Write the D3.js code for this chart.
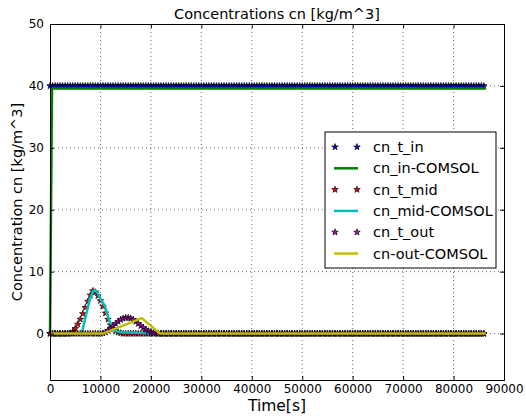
<!DOCTYPE html>
<html lang="en">
  <head>
    <meta charset="utf-8" />
    <title>Concentrations cn</title>
    <script src="https://cdnjs.cloudflare.com/ajax/libs/d3/7.8.5/d3.min.js"></script>
    <style>
      body { margin: 0; background: #fff; }
      text { font-family: "DejaVu Sans", sans-serif; fill: #000; }
      .axis path { stroke: #000; stroke-width: 1; }
      .axis line { stroke: #000; stroke-width: 1; }
      .axis text { font-size: 12px; font-family: "DejaVu Sans", sans-serif; }
      .grid line { stroke: #000; stroke-width: 0.6; stroke-dasharray: 1, 3; }
    </style>
  </head>
  <body>
    <div id="chart"></div>
    <script>
      // Sampling step of the time series (s) and its end.
      const timeStep = 500;
      const timeEnd = 86400;

      // Star series, one value per time step; after the listed values the series stays at its last level.
      const cnTIn = [40];
      const cnTMid = [0, 0, 0, 0, 0, 0, 0, 0, 0.05, 0.3, 0.8, 1.5, 2.3, 3.2, 4.2, 5.2, 6.2, 6.9,
                      6.7, 6.1, 5.3, 4.4, 3.3, 2.3, 1.4, 0.8, 0.4, 0.2, 0.08, 0];
      const cnTOut = [0, 0, 0, 0, 0, 0, 0, 0, 0, 0, 0, 0, 0, 0, 0, 0, 0, 0, 0, 0, 0,
                      0.05, 0.2, 0.5, 0.8, 1.2, 1.6, 1.95, 2.25, 2.45, 2.55, 2.55, 2.45, 2.25,
                      1.95, 1.6, 1.25, 0.95, 0.65, 0.4, 0.25, 0.12, 0.05, 0];

      // COMSOL curves as [time, value].
      const cnInComsol = [[0, 0], [400, 39.6], [86400, 39.6]];
      const cnMidComsol = [[0, 0], [6300, 0], [7000, 2.5], [7800, 5.2], [8500, 6.8], [8900, 7.0],
                           [9400, 6.6], [10000, 5.6], [10900, 4.4], [11400, 3.0], [11900, 1.8],
                           [12400, 0.9], [12900, 0.4], [14000, 0.2], [17000, 0.15], [19500, 0.05],
                           [21000, 0], [86400, 0]];
      const cnOutComsol = [[0, 0], [10500, 0], [18200, 2.5], [21800, 0], [86400, 0]];

      const xTicks = [0, 10000, 20000, 30000, 40000, 50000, 60000, 70000, 80000, 90000];
      const yTicks = [0, 10, 20, 30, 40, 50];
      const legendLabels = ['cn_t_in', 'cn_in-COMSOL', 'cn_t_mid', 'cn_mid-COMSOL', 'cn_t_out', 'cn-out-COMSOL'];

      const width = 526;
      const height = 416;
      const margin = { top: 24, right: 22, bottom: 36, left: 50 };
      const innerWidth = width - margin.left - margin.right;
      const innerHeight = height - margin.top - margin.bottom;

      // Expand a step series into [time, value] points.
      function toPoints (vals) {
        const pts = [];
        let i = 0;
        for (let t = 0; t <= timeEnd; t += timeStep, i++) {
          pts.push([t, i < vals.length ? vals[i] : vals[vals.length - 1]]);
        }
        return pts;
      }

      const svg = d3.select('#chart').append('svg')
        .attr('width', width)
        .attr('height', height)
        .style('display', 'block');

      const g = svg.append('g')
        .attr('transform', `translate(${margin.left},${margin.top})`);

      const x = d3.scaleLinear().domain([0, 90000]).range([0, innerWidth]);
      const y = d3.scaleLinear().domain([-7.5, 50]).range([innerHeight, 0]);

      // Grid.
      g.append('g').attr('class', 'grid')
        .selectAll('line').data(xTicks.slice(1, -1)).join('line')
          .attr('x1', d => x(d)).attr('x2', d => x(d))
          .attr('y1', 0).attr('y2', innerHeight);
      g.append('g').attr('class', 'grid')
        .selectAll('line').data(yTicks.slice(0, -1)).join('line')
          .attr('x1', 0).attr('x2', innerWidth)
          .attr('y1', d => y(d)).attr('y2', d => y(d));

      const line = d3.line().x(d => x(d[0])).y(d => y(d[1]));
      const star = d3.symbol().type(d3.symbolStar).size(13);

      function drawStars (pts, color) {
        g.append('g').selectAll('path').data(pts).join('path')
          .attr('d', star)
          .attr('transform', d => `translate(${x(d[0])},${y(d[1])})`)
          .attr('fill', color)
          .attr('stroke', '#000')
          .attr('stroke-width', 0.7);
      }

      function drawLine (pts, color) {
        g.append('path').datum(pts)
          .attr('fill', 'none')
          .attr('stroke', color)
          .attr('stroke-width', 2.5)
          .attr('d', line);
      }

      drawStars(toPoints(cnTIn), '#0000ff');
      drawLine(cnInComsol, '#008000');
      drawStars(toPoints(cnTMid), '#ff0000');
      drawLine(cnMidComsol, '#00bfbf');
      drawStars(toPoints(cnTOut), '#bf00bf');
      drawLine(cnOutComsol, '#bfbf00');

      // Axes with inward ticks on all four sides.
      g.append('g').attr('class', 'axis')
        .attr('transform', `translate(0,${innerHeight})`)
        .call(d3.axisBottom(x).tickValues(xTicks).tickSize(-4).tickPadding(4).tickFormat(d3.format('d')));
      g.append('g').attr('class', 'axis')
        .call(d3.axisTop(x).tickValues(xTicks).tickSize(-4).tickFormat(''));
      g.append('g').attr('class', 'axis')
        .call(d3.axisLeft(y).tickValues(yTicks).tickSize(-4).tickPadding(6));
      g.append('g').attr('class', 'axis')
        .attr('transform', `translate(${innerWidth},0)`)
        .call(d3.axisRight(y).tickValues(yTicks).tickSize(-4).tickFormat(''));
      g.selectAll('.axis .domain').attr('stroke-width', 1.2);

      // Titles.
      svg.append('text')
        .attr('x', margin.left + innerWidth / 2).attr('y', 19)
        .attr('text-anchor', 'middle').style('font-size', '14.5px')
        .text('Concentrations cn [kg/m^3]');
      svg.append('text')
        .attr('x', margin.left + innerWidth / 2).attr('y', 411)
        .attr('text-anchor', 'middle').style('font-size', '15.5px')
        .text('Time[s]');
      svg.append('text')
        .attr('transform', `translate(22,${margin.top + innerHeight / 2}) rotate(-90)`)
        .attr('text-anchor', 'middle').style('font-size', '14.5px')
        .text('Concentration cn [kg/m^3]');

      // Legend.
      const legend = svg.append('g').attr('transform', 'translate(325,132)');
      legend.append('rect')
        .attr('width', 171).attr('height', 136)
        .attr('fill', '#fff').attr('stroke', '#000').attr('stroke-width', 1);
      const legendStyle = [
        { kind: 'star', color: '#0000ff' },
        { kind: 'line', color: '#008000' },
        { kind: 'star', color: '#ff0000' },
        { kind: 'line', color: '#00bfbf' },
        { kind: 'star', color: '#bf00bf' },
        { kind: 'line', color: '#bfbf00' }
      ];
      legendLabels.forEach((label, i) => {
        const row = legend.append('g').attr('transform', `translate(0,${15 + i * 21.3})`);
        const s = legendStyle[i];
        if (s.kind === 'star') {
          [10, 32].forEach(cx => {
            row.append('path').attr('d', star)
              .attr('transform', `translate(${cx},0)`)
              .attr('fill', s.color).attr('stroke', '#000').attr('stroke-width', 0.7);
          });
        } else {
          row.append('line').attr('x1', 9).attr('x2', 33)
            .attr('stroke', s.color).attr('stroke-width', 2.5);
        }
        row.append('text').attr('x', 48).attr('y', 5)
          .style('font-size', '14.5px').text(label);
      });
    </script>
  </body>
</html>
